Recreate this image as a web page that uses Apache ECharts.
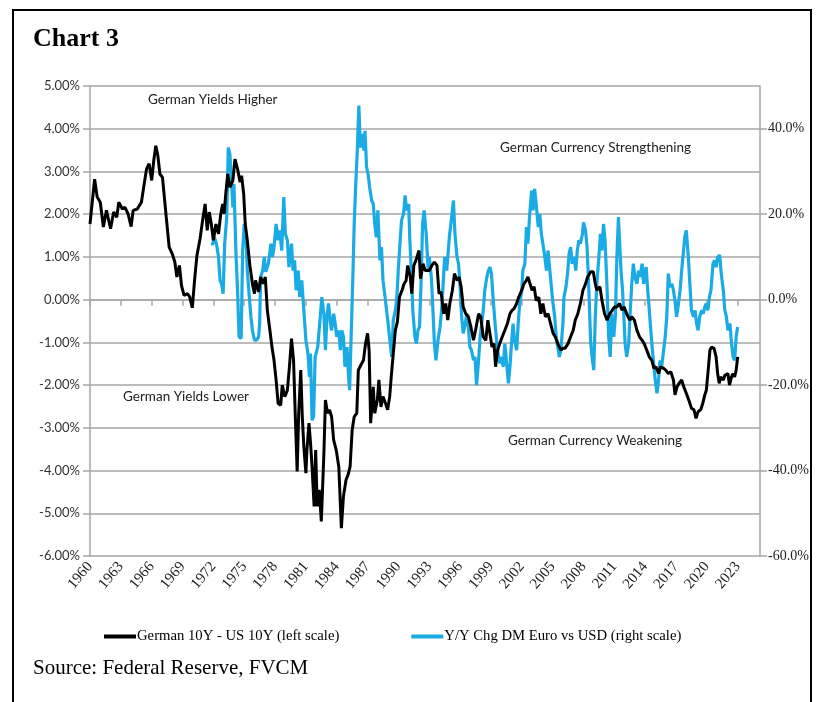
<!DOCTYPE html>
<html>
<head>
<meta charset="utf-8">
<script src="https://cdn.jsdelivr.net/npm/echarts@6/dist/echarts.min.js"></script>
<style>html,body{margin:0;padding:0;background:#fff;}#c{width:823px;height:702px;}</style>
</head>
<body>
<div id="c"></div>
<script>
// German 10Y - US 10Y spread (left scale, %)
var spreadYears = [1960.0,1960.45,1960.7,1961.0,1961.3,1961.6,1962.0,1962.3,1962.6,1962.8,1963.15,1963.4,1963.7,1964.0,1964.2,1964.6,1965.0,1965.3,1965.5,1965.75,1966.0,1966.2,1966.4,1966.6,1966.8,1967.05,1967.4,1967.7,1968.0,1968.25,1968.45,1968.7,1968.9,1969.15,1969.5,1969.7,1969.95,1970.2,1970.4,1970.7,1970.95,1971.2,1971.4,1971.6,1971.8,1972.0,1972.25,1972.5,1972.7,1972.9,1973.05,1973.2,1973.4,1973.6,1973.9,1974.1,1974.35,1974.6,1974.75,1974.95,1975.1,1975.3,1975.55,1975.8,1976.0,1976.1,1976.4,1976.6,1976.85,1977.05,1977.25,1977.5,1977.7,1977.9,1978.1,1978.3,1978.55,1978.7,1978.95,1979.2,1979.4,1979.6,1979.8,1979.95,1980.15,1980.3,1980.5,1980.65,1980.8,1981.0,1981.1,1981.3,1981.45,1981.6,1981.8,1981.95,1982.1,1982.3,1982.5,1982.75,1982.9,1983.1,1983.3,1983.5,1983.7,1983.95,1984.2,1984.45,1984.65,1984.9,1985.1,1985.3,1985.5,1985.7,1985.95,1986.1,1986.35,1986.6,1986.8,1987.0,1987.15,1987.3,1987.55,1987.7,1987.95,1988.1,1988.3,1988.5,1988.75,1988.95,1989.15,1989.3,1989.5,1989.7,1989.9,1990.1,1990.35,1990.55,1990.75,1990.9,1991.15,1991.3,1991.5,1991.7,1992.0,1992.15,1992.4,1992.6,1993.0,1993.25,1993.5,1993.75,1993.95,1994.15,1994.4,1994.6,1994.8,1995.0,1995.25,1995.45,1995.7,1995.9,1996.1,1996.3,1996.55,1996.8,1997.05,1997.3,1997.5,1997.8,1998.0,1998.25,1998.5,1998.7,1998.9,1999.1,1999.3,1999.45,1999.65,1999.85,2000.1,2000.35,2000.6,2000.85,2001.05,2001.25,2001.5,2001.7,2002.0,2002.2,2002.45,2002.6,2002.8,2003.0,2003.2,2003.4,2003.65,2003.85,2004.05,2004.3,2004.55,2004.8,2005.05,2005.25,2005.5,2005.8,2006.0,2006.2,2006.5,2006.75,2007.0,2007.2,2007.45,2007.7,2007.95,2008.2,2008.4,2008.7,2008.95,2009.15,2009.3,2009.6,2009.8,2010.05,2010.3,2010.55,2010.8,2011.0,2011.25,2011.5,2011.75,2011.95,2012.2,2012.5,2012.7,2012.95,2013.2,2013.45,2013.7,2013.9,2014.15,2014.4,2014.65,2014.85,2015.05,2015.3,2015.5,2015.8,2016.0,2016.25,2016.5,2016.75,2016.9,2017.1,2017.3,2017.55,2017.75,2018.0,2018.3,2018.5,2018.75,2018.95,2019.15,2019.4,2019.6,2019.8,2019.95,2020.1,2020.3,2020.45,2020.7,2020.9,2021.05,2021.2,2021.35,2021.6,2021.75,2021.9,2022.05,2022.2,2022.4,2022.55,2022.7,2022.85,2023.0];
var spreadVals = [1.77,2.82,2.40,2.28,1.70,2.09,1.66,2.05,1.93,2.28,2.12,2.16,2.01,1.71,2.09,2.12,2.28,2.75,3.06,3.18,2.79,3.25,3.60,3.37,2.94,2.86,1.97,1.23,1.07,0.88,0.53,0.80,0.33,0.10,0.14,0.06,-0.19,0.53,1.03,1.42,1.85,2.24,1.62,2.05,1.77,1.39,1.77,1.54,1.97,2.24,2.01,2.47,2.94,2.63,2.79,3.29,3.06,2.75,2.90,2.47,1.77,1.39,0.80,0.37,0.14,0.45,0.18,0.53,0.37,0.53,-0.25,-0.72,-1.11,-1.42,-1.88,-2.43,-2.47,-2.00,-2.27,-2.12,-1.57,-0.91,-1.42,-2.58,-4.02,-2.66,-1.65,-2.74,-3.44,-4.06,-3.52,-2.89,-3.36,-3.91,-4.84,-3.52,-4.84,-4.45,-5.19,-3.60,-2.35,-2.66,-2.58,-2.74,-3.28,-3.52,-3.91,-5.35,-4.61,-4.22,-4.10,-3.91,-3.05,-2.74,-2.66,-1.65,-1.53,-1.42,-1.03,-0.79,-1.18,-2.89,-2.04,-2.66,-2.35,-1.88,-2.51,-2.27,-2.43,-2.58,-2.27,-1.81,-1.26,-0.72,-0.52,0.06,0.22,0.37,0.45,0.80,0.53,0.14,0.80,0.92,1.15,0.49,0.84,0.68,0.68,0.80,0.88,0.80,0.14,0.18,-0.33,-0.09,-0.48,-0.09,0.22,0.61,0.45,0.53,0.30,-0.17,-0.33,-0.40,-0.64,-0.95,-0.72,-0.33,-0.40,-0.87,-0.95,-0.48,-0.79,-1.11,-1.03,-1.57,-1.18,-1.03,-0.87,-0.72,-0.56,-0.33,-0.25,-0.21,-0.09,0.06,0.22,0.37,0.45,0.53,0.37,0.22,0.30,-0.02,0.06,-0.33,-0.09,-0.40,-0.33,-0.56,-0.79,-0.87,-1.03,-1.18,-1.14,-1.14,-1.03,-0.87,-0.72,-0.48,-0.33,-0.09,0.22,0.37,0.53,0.65,0.65,0.37,0.22,0.30,-0.02,-0.33,-0.48,-0.33,-0.25,-0.17,-0.17,-0.09,-0.25,-0.17,-0.33,-0.48,-0.40,-0.48,-0.72,-0.87,-0.95,-1.03,-1.18,-1.34,-1.42,-1.61,-1.57,-1.73,-1.57,-1.61,-1.65,-1.73,-1.69,-1.88,-2.23,-2.04,-1.96,-1.88,-2.04,-2.19,-2.39,-2.54,-2.58,-2.78,-2.62,-2.58,-2.43,-2.23,-2.12,-1.73,-1.18,-1.11,-1.14,-1.34,-1.73,-1.96,-1.81,-1.88,-1.77,-1.81,-1.73,-2.00,-1.81,-1.73,-1.81,-1.65,-1.34];

// Y/Y change DM/Euro vs USD (right scale, %)
var fxYears = [1971.9,1972.1,1972.3,1972.5,1972.65,1972.8,1972.95,1973.1,1973.3,1973.45,1973.6,1973.75,1973.9,1974.0,1974.2,1974.35,1974.5,1974.7,1974.85,1975.0,1975.2,1975.3,1975.5,1975.65,1975.8,1976.0,1976.2,1976.4,1976.5,1976.6,1976.8,1976.95,1977.1,1977.35,1977.6,1977.75,1977.9,1978.1,1978.3,1978.45,1978.65,1978.85,1979.0,1979.2,1979.35,1979.6,1979.75,1979.9,1980.05,1980.25,1980.4,1980.6,1980.8,1981.0,1981.2,1981.35,1981.45,1981.6,1981.75,1981.9,1982.15,1982.4,1982.55,1982.75,1982.9,1983.05,1983.2,1983.4,1983.5,1983.7,1983.85,1984.0,1984.2,1984.35,1984.5,1984.65,1984.8,1985.0,1985.15,1985.25,1985.4,1985.55,1985.7,1985.85,1986.0,1986.15,1986.3,1986.45,1986.65,1986.75,1986.9,1987.05,1987.2,1987.4,1987.55,1987.7,1987.85,1988.0,1988.2,1988.35,1988.5,1988.7,1988.85,1989.0,1989.2,1989.35,1989.5,1989.7,1989.85,1990.0,1990.15,1990.3,1990.5,1990.65,1990.8,1991.0,1991.1,1991.25,1991.4,1991.6,1991.75,1991.9,1992.05,1992.2,1992.35,1992.5,1992.7,1992.9,1993.0,1993.2,1993.3,1993.5,1993.65,1993.85,1994.05,1994.2,1994.5,1994.7,1994.95,1995.1,1995.25,1995.35,1995.5,1995.7,1995.85,1996.0,1996.15,1996.3,1996.5,1996.65,1996.8,1996.95,1997.1,1997.3,1997.45,1997.6,1997.75,1997.95,1998.1,1998.25,1998.4,1998.6,1998.75,1998.9,1999.05,1999.2,1999.4,1999.55,1999.7,1999.85,2000.0,2000.2,2000.35,2000.5,2000.7,2000.85,2001.0,2001.15,2001.3,2001.5,2001.65,2001.8,2002.0,2002.1,2002.3,2002.45,2002.6,2002.75,2002.95,2003.1,2003.25,2003.4,2003.6,2003.75,2003.9,2004.05,2004.2,2004.4,2004.55,2004.7,2004.85,2005.0,2005.2,2005.35,2005.5,2005.65,2005.8,2006.0,2006.1,2006.3,2006.45,2006.6,2006.75,2006.9,2007.1,2007.25,2007.4,2007.55,2007.7,2007.9,2008.0,2008.2,2008.35,2008.5,2008.7,2008.85,2009.0,2009.15,2009.3,2009.5,2009.65,2009.8,2009.95,2010.1,2010.3,2010.45,2010.6,2010.75,2010.95,2011.1,2011.25,2011.4,2011.5,2011.65,2011.8,2011.9,2012.05,2012.2,2012.4,2012.55,2012.7,2012.85,2013.0,2013.2,2013.35,2013.5,2013.7,2013.85,2014.0,2014.1,2014.2,2014.35,2014.5,2014.65,2014.8,2014.95,2015.15,2015.3,2015.45,2015.6,2015.8,2015.95,2016.1,2016.25,2016.4,2016.6,2016.75,2016.9,2017.05,2017.2,2017.4,2017.55,2017.7,2017.85,2018.0,2018.2,2018.35,2018.5,2018.7,2018.85,2019.0,2019.15,2019.3,2019.5,2019.65,2019.8,2019.95,2020.1,2020.25,2020.4,2020.6,2020.75,2020.9,2021.05,2021.25,2021.4,2021.6,2021.75,2021.9,2022.05,2022.25,2022.4,2022.55,2022.7,2022.85,2023.0];
var fxVals = [12.7,14.6,13.1,10.0,4.5,3.7,1.4,13.1,19.3,35.6,34.1,28.6,21.6,27.1,10.7,2.2,-8.7,-9.1,11.5,17.7,13.1,6.8,0.6,-4.0,-7.2,-9.5,-9.5,-8.7,-5.6,5.3,6.8,10.0,6.5,8.4,13.1,10.0,12.3,17.7,13.9,16.2,11.5,24.0,15.4,13.9,7.6,13.1,6.8,9.2,2.2,6.8,0.6,4.5,-2.5,-9.5,-12.6,-18.1,-12.6,-28.2,-27.4,-13.4,-11.1,-4.0,0.6,-3.3,-11.8,-4.0,-0.9,-5.6,-7.2,-3.3,-5.6,-8.7,-7.2,-11.8,-7.2,-8.7,-15.7,-11.1,-18.1,-21.2,-8.7,3.7,17.7,27.1,34.9,45.4,35.6,38.8,34.9,39.5,31.0,29.4,26.3,23.2,22.4,17.7,14.6,20.9,9.2,12.3,4.5,0.6,-2.5,-5.6,-10.3,-13.4,-4.8,-2.5,0.6,7.6,13.1,18.5,20.1,24.4,20.9,22.4,14.6,6.8,-2.5,-8.7,-10.3,-7.2,-6.4,3.7,17.7,20.9,15.4,6.8,10.0,5.3,0.6,-10.3,-14.2,-9.5,-6.4,-2.5,10.0,6.8,14.6,17.7,20.9,23.2,15.4,10.0,8.4,3.0,-4.0,-7.9,-5.6,-3.3,-6.4,-11.1,-11.8,-14.2,-13.4,-20.0,-15.7,-8.7,-5.6,-2.5,2.2,5.3,6.8,7.6,6.1,0.6,-5.6,-9.5,-12.6,-14.9,-13.4,-15.7,-10.3,-14.2,-19.6,-15.7,-10.3,-5.6,-9.5,-11.8,-5.6,-0.9,2.2,6.8,8.4,17.0,13.1,19.3,25.5,20.9,25.9,22.4,17.0,20.1,15.4,13.1,10.7,6.8,11.5,7.6,3.7,-0.2,-4.0,-8.7,-11.1,-13.4,-11.8,-5.6,0.6,3.0,6.1,10.7,12.3,8.4,10.0,6.8,11.5,13.9,13.1,15.4,18.1,16.2,12.3,3.7,-10.0,-13.7,-16.5,-4.0,3.7,10.0,15.4,11.5,17.7,13.9,2.2,-8.7,-13.4,-3.3,-8.7,-4.0,10.0,19.3,18.9,6.8,2.2,-2.5,-10.3,-13.4,-10.3,-2.5,3.7,8.4,5.3,3.7,6.8,5.3,8.4,3.7,6.8,7.6,3.7,-0.9,-5.6,-10.3,-14.2,-18.1,-21.9,-18.8,-14.2,-15.7,-11.8,-8.7,-4.0,6.1,3.0,3.7,2.2,-0.2,-4.0,-1.7,2.2,6.8,10.7,14.6,16.2,10.0,3.7,-2.5,-4.0,-2.5,-5.6,-7.2,-4.0,-2.5,-3.3,-1.7,-0.9,-2.5,0.6,2.2,8.4,9.2,7.6,10.0,10.4,6.1,2.2,-2.5,-4.0,-7.2,-5.6,-10.3,-13.4,-14.2,-8.7,-6.4];

var xTickYears = [1960,1963,1966,1969,1972,1975,1978,1981,1984,1987,1990,1993,1996,1999,2002,2005,2008,2011,2014,2017,2020,2023];
var leftTicks = [-6,-5,-4,-3,-2,-1,0,1,2,3,4,5];
var rightTicks = [-60,-40,-20,0,20,40];
var seriesNames = ['German 10Y - US 10Y (left scale)', 'Y/Y Chg DM Euro vs USD (right scale)'];

function pairs(xs, ys){ var out=[]; for(var i=0;i<xs.length;i++){ out.push([xs[i], ys[i]]); } return out; }

var chart = echarts.init(document.getElementById('c'), null, {renderer:'canvas'});
var gridColor = '#a6a6a6';
var serif = '"Liberation Serif", "Times New Roman", serif';
var annFont = 'Lato, "Open Sans", sans-serif';
chart.setOption({
  animation:false,
  backgroundColor:'#ffffff',
  grid:{left:90, right:63, top:86, bottom:146, containLabel:false},
  legend:{
    data:seriesNames, left:99, top:624, itemGap:72, itemWidth:32, itemHeight:4, icon:'rect',
    textStyle:{fontFamily:serif, fontSize:14.7, color:'#000', padding:[0,0,0,-4]}
  },
  graphic:[
    {type:'rect', shape:{x:13, y:10, width:798, height:710}, style:{fill:'none', stroke:'#000', lineWidth:2}, silent:true},
    {type:'text', left:33, top:26, style:{text:'Chart 3', font:'bold 26px '+serif, fill:'#000'}},
    {type:'text', left:33, top:658, style:{text:'Source: Federal Reserve, FVCM', font:'21px '+serif, fill:'#000'}},
    {type:'text', left:148, top:93, style:{text:'German Yields Higher', font:'13.5px '+annFont, fill:'#222'}},
    {type:'text', left:500, top:141, style:{text:'German Currency Strengthening', font:'13.5px '+annFont, fill:'#222'}},
    {type:'text', left:123, top:390, style:{text:'German Yields Lower', font:'13.5px '+annFont, fill:'#222'}},
    {type:'text', left:508, top:434, style:{text:'German Currency Weakening', font:'13.5px '+annFont, fill:'#222'}}
  ],
  xAxis:{
    type:'value', min:1960, max:2025.17, interval:3,
    axisLine:{show:true, lineStyle:{color:gridColor, width:1.5}},
    axisTick:{show:true, length:6, lineStyle:{color:gridColor, width:1.5}},
    splitLine:{show:false},
    axisLabel:{
      rotate:50, margin:8, showMaxLabel:false,
      fontFamily:serif, fontSize:15, color:'#222',
      formatter:function(v){ return xTickYears.indexOf(Math.round(v))>=0 && Math.abs(v-Math.round(v))<0.01 ? String(Math.round(v)) : ''; }
    }
  },
  yAxis:[
    {
      type:'value', min:-6, max:5, interval:1, position:'left',
      axisLine:{show:true, lineStyle:{color:gridColor, width:1.5}},
      axisTick:{show:true, length:7, lineStyle:{color:gridColor, width:1.5}},
      splitLine:{show:true, lineStyle:{color:gridColor, width:1.5}},
      axisLabel:{margin:10, fontFamily:annFont, fontSize:13, color:'#333',
        formatter:function(v){ return leftTicks.indexOf(Math.round(v))>=0 ? v.toFixed(2)+'%' : ''; }}
    },
    {
      type:'value', min:-60, max:50, interval:20, position:'right',
      axisLine:{show:true, lineStyle:{color:gridColor, width:1.5}},
      axisTick:{show:true, length:7, lineStyle:{color:gridColor, width:1.5}},
      splitLine:{show:false},
      axisLabel:{margin:8, showMaxLabel:false, fontFamily:serif, fontSize:14, color:'#222',
        formatter:function(v){ return rightTicks.indexOf(Math.round(v))>=0 ? v.toFixed(1)+'%' : ''; }}
    }
  ],
  series:[
    {name:seriesNames[0], type:'line', yAxisIndex:0, z:4, data:pairs(spreadYears, spreadVals), showSymbol:false, symbol:'none',
      lineStyle:{color:'#000000', width:3}, itemStyle:{color:'#000000'}},
    {name:seriesNames[1], type:'line', yAxisIndex:1, z:3, data:pairs(fxYears, fxVals), showSymbol:false, symbol:'none',
      lineStyle:{color:'#1aabe5', width:3.2}, itemStyle:{color:'#1aabe5'}}
  ]
});
</script>
</body>
</html>
